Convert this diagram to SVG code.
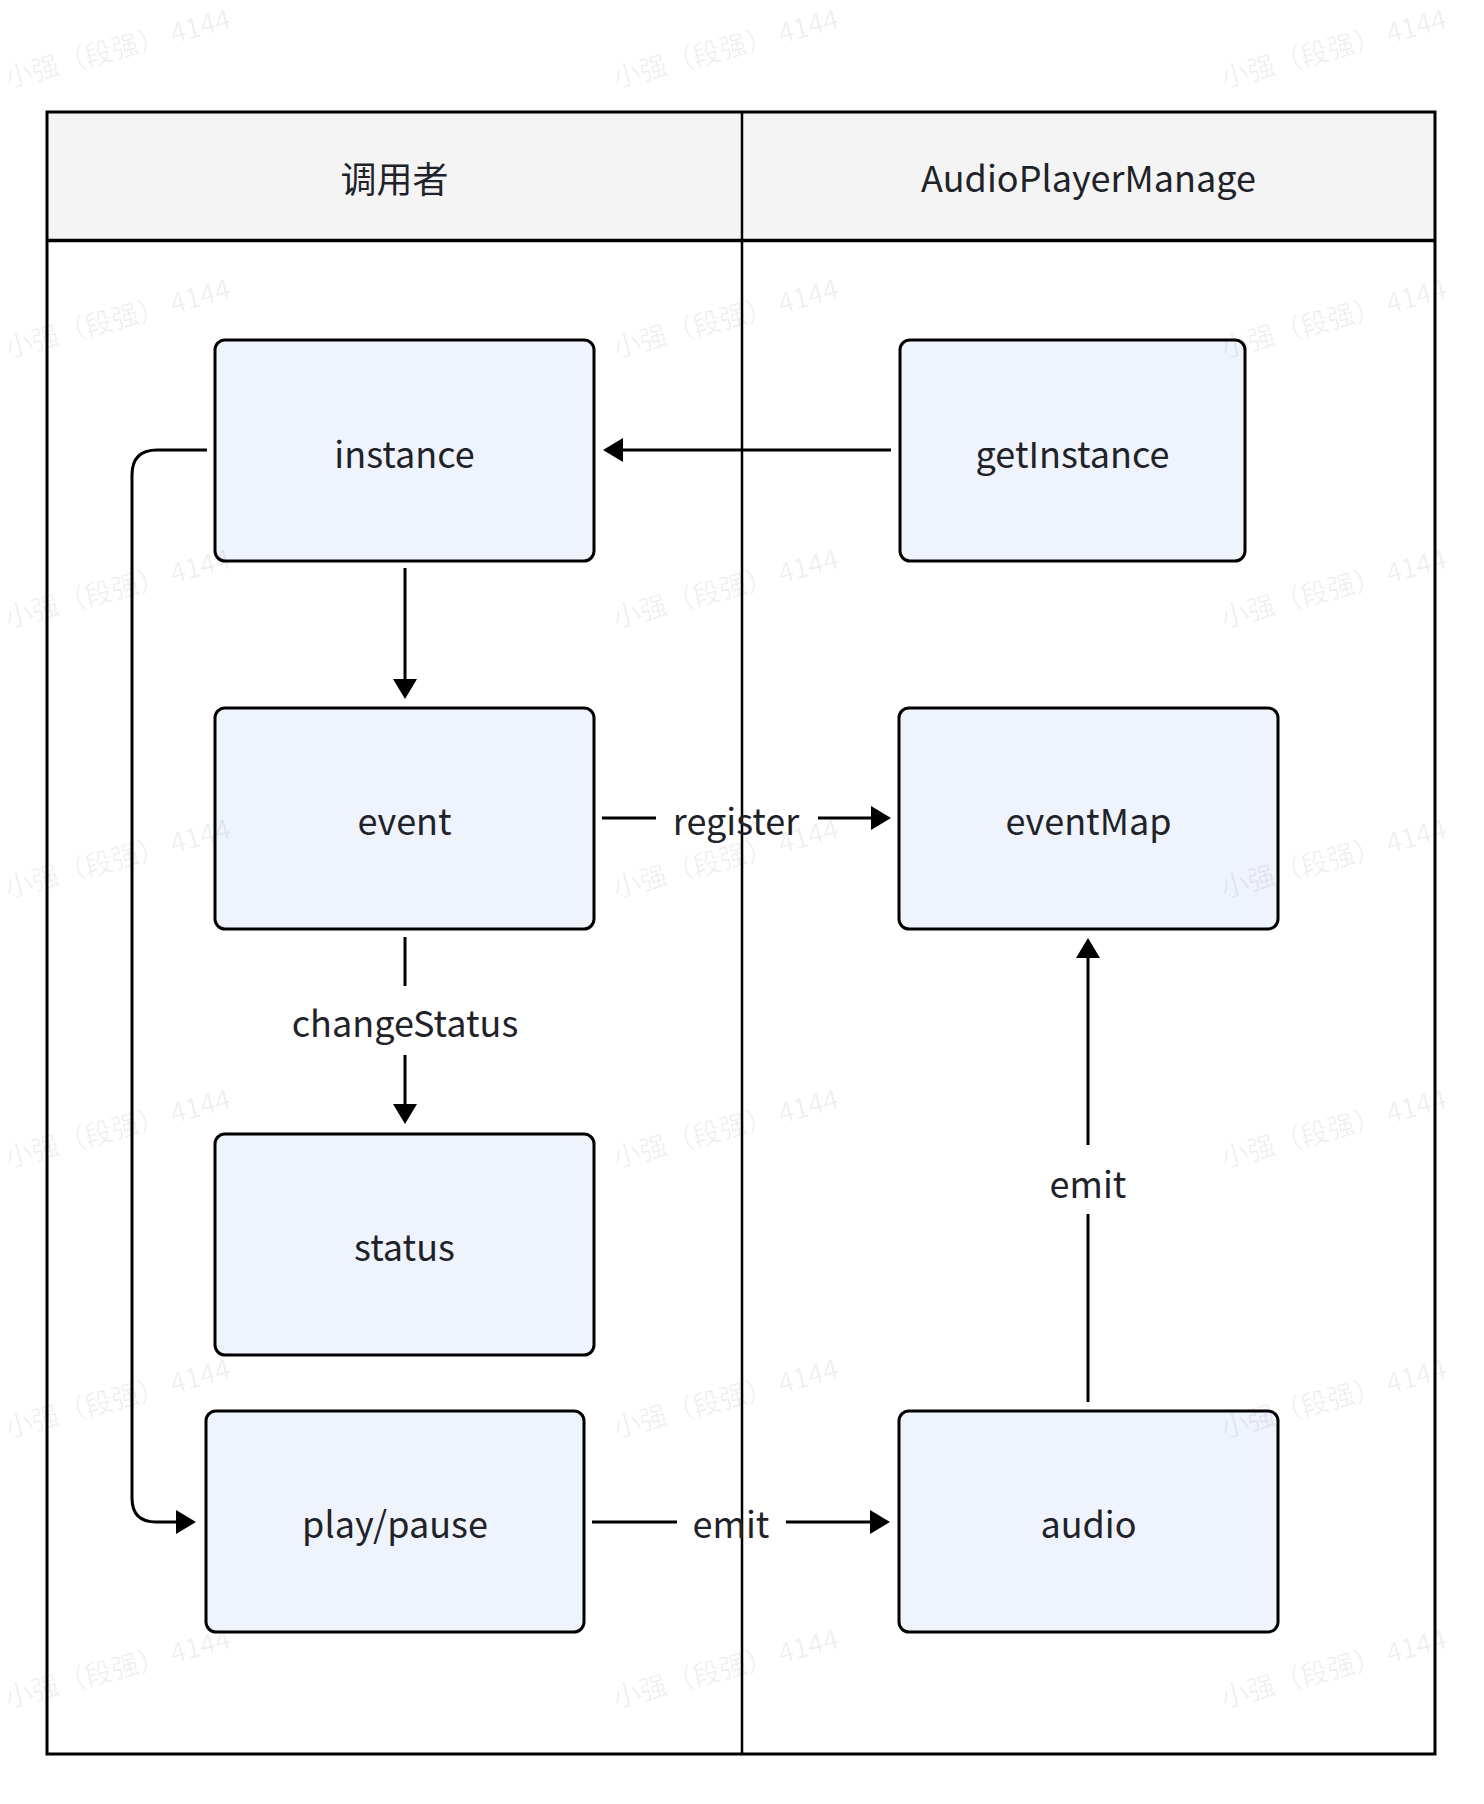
<svg xmlns="http://www.w3.org/2000/svg" width="1484" height="1804" viewBox="0 0 1484 1804">
<defs>
<style>
.lbl{font-family:"Noto Sans CJK SC","Noto Sans",sans-serif;font-size:36px;fill:#1f2329;text-anchor:middle}
.node rect{fill:#eff3fc;stroke:#000;stroke-width:3}
.conn{fill:none;stroke:#000;stroke-width:3}
.wm{font-family:"Noto Sans CJK SC",sans-serif;font-size:27.5px;fill:#000;fill-opacity:0.065}
</style>
<marker id="arr" markerUnits="userSpaceOnUse" viewBox="0 0 20 24" markerWidth="20" markerHeight="24" refX="1" refY="12" orient="auto">
<path d="M0,0 L20,12 L0,24 z" fill="#000"/>
</marker>
</defs>
<rect width="1484" height="1804" fill="#fff"/>
<g id="swimlanes">
<rect x="47" y="112" width="1388" height="128.5" fill="#f4f4f4"/>
<rect x="47" y="112" width="1388" height="1642" fill="none" stroke="#000" stroke-width="3"/>
<line x1="47" y1="240.5" x2="1435" y2="240.5" stroke="#000" stroke-width="3.5"/>
<line x1="742" y1="112" x2="742" y2="1754" stroke="#000" stroke-width="2.5"/>
<text class="lbl" x="394.5" y="192.5">调用者</text>
<text class="lbl" x="1088.5" y="192">AudioPlayerManage</text>
</g>
<g id="connectors">
<path class="conn" d="M891,450 H622" marker-end="url(#arr)"/>
<path class="conn" d="M405,568 V680" marker-end="url(#arr)"/>
<path class="conn" d="M602,818 H656"/>
<path class="conn" d="M818,818 H872" marker-end="url(#arr)"/>
<text class="lbl" x="736" y="834.5">register</text>
<path class="conn" d="M405,937 V986"/>
<path class="conn" d="M405,1055 V1105" marker-end="url(#arr)"/>
<text class="lbl" x="405" y="1036.5">changeStatus</text>
<path class="conn" d="M207,450 H157 Q132,450 132,475 V1498 Q132,1522 156,1522 H177" marker-end="url(#arr)"/>
<path class="conn" d="M592,1522 H677"/>
<path class="conn" d="M786,1522 H871" marker-end="url(#arr)"/>
<text class="lbl" x="731" y="1537.5">emit</text>
<path class="conn" d="M1088,1402 V1214"/>
<path class="conn" d="M1088,1145 V957" marker-end="url(#arr)"/>
<text class="lbl" x="1088" y="1197.5">emit</text>
</g>
<g id="node-instance" class="node"><rect x="215" y="340" width="379" height="221" rx="10"/><text class="lbl" x="404.5" y="467.5">instance</text></g>
<g id="node-getInstance" class="node"><rect x="900" y="340" width="345" height="221" rx="10"/><text class="lbl" x="1072.5" y="467.5">getInstance</text></g>
<g id="node-event" class="node"><rect x="215" y="708" width="379" height="221" rx="10"/><text class="lbl" x="404.5" y="834.5">event</text></g>
<g id="node-eventMap" class="node"><rect x="899" y="708" width="379" height="221" rx="10"/><text class="lbl" x="1088.5" y="834.5">eventMap</text></g>
<g id="node-status" class="node"><rect x="215" y="1134" width="379" height="221" rx="10"/><text class="lbl" x="404.5" y="1260.5">status</text></g>
<g id="node-playpause" class="node"><rect x="206" y="1411" width="378" height="221" rx="10"/><text class="lbl" x="395" y="1537.5">play/pause</text></g>
<g id="node-audio" class="node"><rect x="899" y="1411" width="379" height="221" rx="10"/><text class="lbl" x="1088.5" y="1537.5">audio</text></g>
<g id="watermarks">
<text class="wm" transform="translate(8,88) rotate(-15)">小强（段强）  4144</text>
<text class="wm" transform="translate(616,88) rotate(-15)">小强（段强）  4144</text>
<text class="wm" transform="translate(1224,88) rotate(-15)">小强（段强）  4144</text>
<text class="wm" transform="translate(8,358) rotate(-15)">小强（段强）  4144</text>
<text class="wm" transform="translate(616,358) rotate(-15)">小强（段强）  4144</text>
<text class="wm" transform="translate(1224,358) rotate(-15)">小强（段强）  4144</text>
<text class="wm" transform="translate(8,628) rotate(-15)">小强（段强）  4144</text>
<text class="wm" transform="translate(616,628) rotate(-15)">小强（段强）  4144</text>
<text class="wm" transform="translate(1224,628) rotate(-15)">小强（段强）  4144</text>
<text class="wm" transform="translate(8,898) rotate(-15)">小强（段强）  4144</text>
<text class="wm" transform="translate(616,898) rotate(-15)">小强（段强）  4144</text>
<text class="wm" transform="translate(1224,898) rotate(-15)">小强（段强）  4144</text>
<text class="wm" transform="translate(8,1168) rotate(-15)">小强（段强）  4144</text>
<text class="wm" transform="translate(616,1168) rotate(-15)">小强（段强）  4144</text>
<text class="wm" transform="translate(1224,1168) rotate(-15)">小强（段强）  4144</text>
<text class="wm" transform="translate(8,1438) rotate(-15)">小强（段强）  4144</text>
<text class="wm" transform="translate(616,1438) rotate(-15)">小强（段强）  4144</text>
<text class="wm" transform="translate(1224,1438) rotate(-15)">小强（段强）  4144</text>
<text class="wm" transform="translate(8,1708) rotate(-15)">小强（段强）  4144</text>
<text class="wm" transform="translate(616,1708) rotate(-15)">小强（段强）  4144</text>
<text class="wm" transform="translate(1224,1708) rotate(-15)">小强（段强）  4144</text>
</g>
</svg>
